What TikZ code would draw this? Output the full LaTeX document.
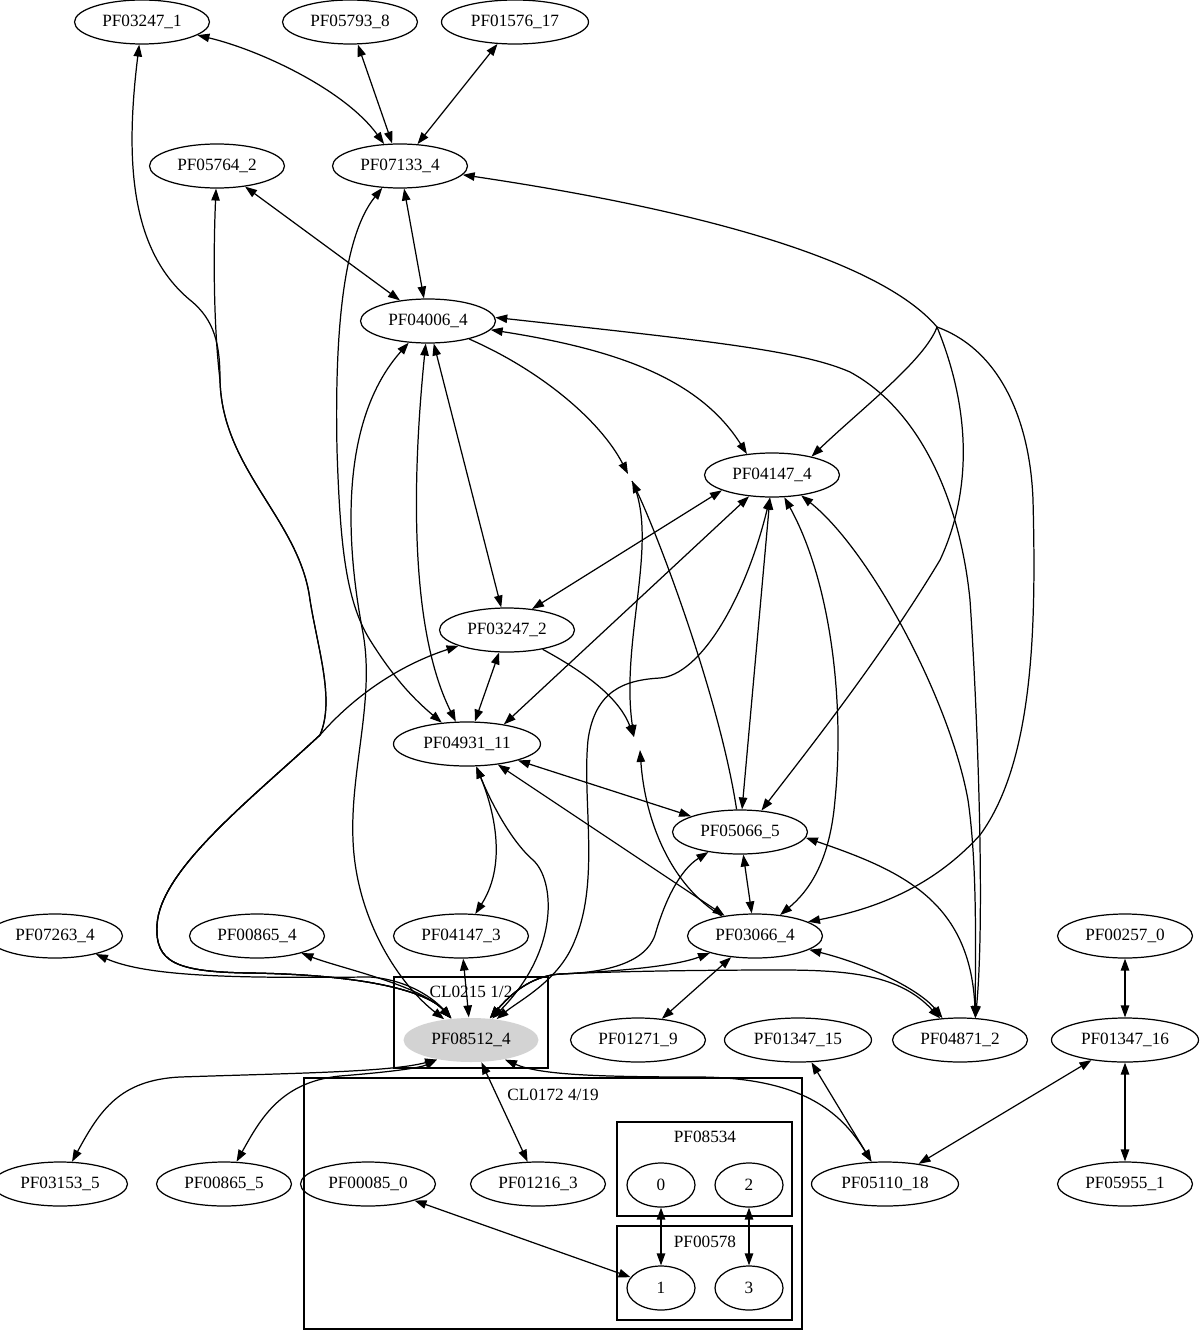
\documentclass[tikz,border=0pt]{standalone}
\usepackage{fontspec}
\setmainfont{Liberation Serif}
\usetikzlibrary{arrows.meta,shapes.geometric}
\definecolor{nodegray}{RGB}{211,211,211}

\begin{document}
\begin{tikzpicture}[
  x=0.02cm, y=-0.02cm,
  line width=0.7pt,
  >={Triangle[length=6.8pt,width=4.8pt]},
  every node/.style={font=\fontsize{9.8}{11}\selectfont},
  pfnode/.style={draw, ellipse, minimum width=2.7cm, minimum height=0.88cm, inner sep=1pt},
  widenode/.style={pfnode, minimum width=2.94cm},
  subnode/.style={pfnode, minimum width=1.36cm},
  link/.style={<->}
]
\useasboundingbox (0,0) rectangle (1200,1331);

% clusters
\draw[line width=0.6pt] (394,977) rectangle (548,1068);
\draw[line width=0.6pt] (304,1078) rectangle (802,1329);
\draw[line width=0.6pt] (617,1122) rectangle (792,1216);
\draw[line width=0.6pt] (617,1226) rectangle (792,1320);
\node (cl0215) at (471,992) {CL0215 1/2};
\node (cl0172) at (553,1095) {CL0172 4/19};
\node (pf08534) at (705,1137) {PF08534};
\node (pf00578) at (705,1242) {PF00578};

% nodes
\node[pfnode] (pf03247_1) at (142,22) {PF03247\_1};
\node[pfnode] (pf05793_8) at (350,22) {PF05793\_8};
\node[widenode] (pf01576_17) at (515,22) {PF01576\_17};
\node[pfnode] (pf05764_2) at (217,166) {PF05764\_2};
\node[pfnode] (pf07133_4) at (400,166) {PF07133\_4};
\node[pfnode] (pf04006_4) at (428,321) {PF04006\_4};
\node[pfnode] (pf04147_4) at (772,475) {PF04147\_4};
\node[pfnode] (pf03247_2) at (507,630) {PF03247\_2};
\node[widenode] (pf04931_11) at (467,744) {PF04931\_11};
\node[pfnode] (pf05066_5) at (740,832) {PF05066\_5};
\node[pfnode] (pf07263_4) at (55,936) {PF07263\_4};
\node[pfnode] (pf00865_4) at (257,936) {PF00865\_4};
\node[pfnode] (pf04147_3) at (461,936) {PF04147\_3};
\node[pfnode] (pf03066_4) at (755,936) {PF03066\_4};
\node[pfnode] (pf00257_0) at (1125,936) {PF00257\_0};
\node[pfnode, draw=none, fill=nodegray] (pf08512_4) at (471,1040) {PF08512\_4};
\node[pfnode] (pf01271_9) at (638,1040) {PF01271\_9};
\node[widenode] (pf01347_15) at (798,1040) {PF01347\_15};
\node[pfnode] (pf04871_2) at (960,1040) {PF04871\_2};
\node[widenode] (pf01347_16) at (1125,1040) {PF01347\_16};
\node[pfnode] (pf03153_5) at (60,1184) {PF03153\_5};
\node[pfnode] (pf00865_5) at (224,1184) {PF00865\_5};
\node[pfnode] (pf00085_0) at (368,1184) {PF00085\_0};
\node[pfnode] (pf01216_3) at (538,1184) {PF01216\_3};
\node[widenode] (pf05110_18) at (885,1184) {PF05110\_18};
\node[pfnode] (pf05955_1) at (1125,1184) {PF05955\_1};
\node[subnode] (s0) at (661,1185) {0};
\node[subnode] (s2) at (749,1185) {2};
\node[subnode] (s1) at (661,1288) {1};
\node[subnode] (s3) at (749,1288) {3};

% top
\draw[link] (pf03247_1) .. controls (260,50) and (345,90) .. (pf07133_4);
\draw[link] (pf05793_8) -- (pf07133_4);
\draw[link] (pf01576_17) -- (pf07133_4);
\draw[link] (pf07133_4) -- (pf04006_4);
\draw[link] (pf05764_2) -- (pf04006_4);

% fork on the right
\coordinate (fork) at (937,327);
\draw[link] (pf07133_4.-8) .. controls (700,210) and (880,260) .. (fork) .. controls (925,360) and (860,410) .. (pf04147_4.25);
\draw[->] (fork) .. controls (975,420) and (968,500) .. (940,560) .. controls (880,660) and (800,760) .. (pf05066_5.45);
\draw[->] (fork) .. controls (1000,350) and (1030,420) .. (1033,500) .. controls (1036,620) and (1035,760) .. (980,835) .. controls (930,890) and (870,910) .. (pf03066_4.15);

% right of PF04006_4
\draw[link] (pf04006_4.3) .. controls (700,340) and (800,350) .. (850,372) .. controls (920,410) and (960,500) .. (970,600) .. controls (978,720) and (985,920) .. (pf04871_2.55);
\draw[link] (pf04006_4.-8) .. controls (620,350) and (700,380) .. (pf04147_4.140);

% loose ends
\coordinate (p1a) at (628,474);
\coordinate (p1b) at (632,481);
\coordinate (p2a) at (634,737);
\coordinate (p2b) at (640,750);
\draw[->] (pf04006_4) .. controls (540,370) and (600,420) .. (p1a);
\draw[->] (pf05066_5) .. controls (720,700) and (660,540) .. (p1b);
\draw[->] (p1b) .. controls (660,540) and (620,640) .. (p2a);
\draw[->] (pf03247_2) .. controls (590,675) and (620,700) .. (p2a);
\draw[->] (pf03066_4) .. controls (670,885) and (645,820) .. (p2b);

% left loop into PF08512_4
\draw[link] (pf03247_1) .. controls (125,160) and (130,250) .. (190,300) .. controls (215,320) and (220,345) .. (220,380) .. controls (222,470) and (300,520) .. (310,600) .. controls (318,650) and (335,700) .. (320,735) .. controls (250,800) and (160,870) .. (157,925) .. controls (155,962) and (175,972) .. (250,973) .. controls (380,975) and (430,995) .. (pf08512_4);
\draw[link] (pf05764_2) .. controls (213,260) and (214,330) .. (220,380) .. controls (222,470) and (300,520) .. (310,600) .. controls (318,650) and (335,700) .. (320,735) .. controls (250,800) and (160,870) .. (157,925) .. controls (155,962) and (175,972) .. (250,973) .. controls (380,975) and (430,995) .. (pf08512_4);
\draw[link] (pf03247_2) .. controls (400,665) and (355,695) .. (320,735) .. controls (250,800) and (160,870) .. (157,925) .. controls (155,962) and (175,972) .. (250,973) .. controls (380,975) and (430,995) .. (pf08512_4);

% top of PF08512_4
\draw[link] (pf07263_4) .. controls (150,978) and (250,978) .. (370,977) .. controls (410,980) and (435,1000) .. (pf08512_4);
\draw[link] (pf00865_4) .. controls (340,968) and (420,985) .. (pf08512_4);
\draw[link] (pf04006_4) .. controls (340,420) and (345,540) .. (363,633) .. controls (375,700) and (350,770) .. (353,840) .. controls (356,920) and (400,985) .. (pf08512_4);
\draw[link] (pf04147_3) -- (pf08512_4);
\draw[link] (pf04931_11) .. controls (490,800) and (510,840) .. (533,860) .. controls (555,880) and (560,950) .. (pf08512_4);
\draw[link] (pf04147_4.-95) .. controls (745,600) and (700,675) .. (660,678) .. controls (625,680) and (595,690) .. (588,740) .. controls (582,800) and (600,880) .. (575,940) .. controls (560,980) and (520,1000) .. (pf08512_4);
\draw[link] (pf05066_5) .. controls (680,870) and (665,900) .. (655,935) .. controls (645,965) and (600,973) .. (560,974) .. controls (530,976) and (510,995) .. (pf08512_4);
\draw[link] (pf03066_4) .. controls (670,968) and (600,972) .. (560,974) .. controls (530,976) and (510,995) .. (pf08512_4);
\draw[link] (pf04871_2) .. controls (900,975) and (850,970) .. (780,970) .. controls (680,970) and (600,972) .. (560,974) .. controls (530,976) and (510,995) .. (pf08512_4);

% bottom of PF08512_4
\draw[link] (pf03153_5) .. controls (100,1110) and (120,1080) .. (180,1077) .. controls (300,1073) and (390,1072) .. (pf08512_4.-150);
\draw[link] (pf00865_5) .. controls (260,1120) and (280,1082) .. (340,1076) .. controls (390,1072) and (420,1068) .. (pf08512_4.-150);
\draw[link] (pf08512_4) -- (pf01216_3);
\draw[link] (pf08512_4.-30) .. controls (540,1075) and (600,1077) .. (700,1077) .. controls (800,1078) and (840,1110) .. (pf05110_18);

% middle
\draw[link] (pf04931_11) .. controls (490,800) and (510,860) .. (pf04147_3);
\draw[link] (pf03247_2) -- (pf04931_11);
\draw[link] (pf04006_4) -- (pf03247_2);
\draw[link] (pf04006_4) .. controls (415,450) and (405,620) .. (pf04931_11);
\draw[link] (pf07133_4) .. controls (340,240) and (335,350) .. (337,450) .. controls (340,540) and (345,600) .. (370,640) .. controls (395,680) and (415,700) .. (pf04931_11);
\draw[link] (pf04931_11) -- (pf05066_5);
\draw[link] (pf04931_11) -- (pf03066_4);
\draw[link] (pf04147_4.-163) -- (pf03247_2.40);
\draw[link] (pf04147_4) -- (pf04931_11.28);
\draw[link] (pf04147_4) -- (pf05066_5);
\draw[link] (pf04147_4) .. controls (830,580) and (845,700) .. (835,800) .. controls (830,860) and (810,890) .. (pf03066_4);
\draw[link] (pf04147_4.-35) .. controls (870,550) and (950,700) .. (968,800) .. controls (978,870) and (975,960) .. (pf04871_2.55);
\draw[link] (pf05066_5) -- (pf03066_4);
\draw[link] (pf05066_5.-5) .. controls (900,870) and (970,900) .. (pf04871_2.55);
\draw[link] (pf03066_4) .. controls (870,965) and (920,990) .. (pf04871_2);
\draw[link] (pf03066_4) -- (pf01271_9);

% right
\draw[link] (pf01347_15) -- (pf05110_18);
\draw[link] (pf01347_16) -- (pf05110_18);
\draw[link] (pf00257_0) -- (pf01347_16);
\draw[link] (pf01347_16) -- (pf05955_1);

% inside CL0172
\draw[link] (pf00085_0) -- (s1);
\draw[link] (s0) -- (s1);
\draw[link] (s2) -- (s3);
\end{tikzpicture}
\end{document}
